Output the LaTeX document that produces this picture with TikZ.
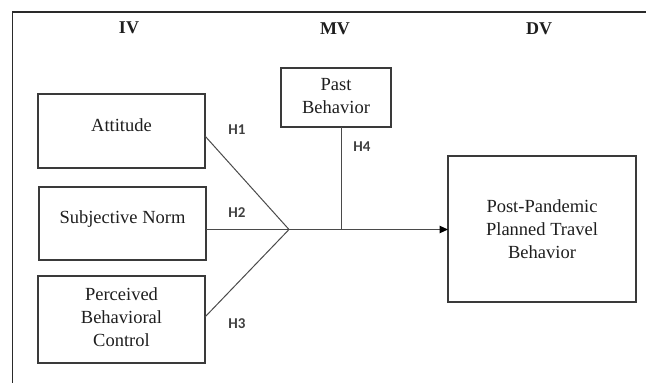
\documentclass[tikz,border=0pt]{standalone}
\usepackage{fontspec}
\setmainfont{Liberation Serif}
\newfontfamily\hypfont{Carlito}
\usetikzlibrary{arrows.meta,calc}

\definecolor{framec}{HTML}{2A2A2A}
\definecolor{boxc}{HTML}{3A3A3A}
\definecolor{linec}{HTML}{4A4A4A}
\definecolor{txtc}{HTML}{1E1E1E}

\tikzset{
  box/.style={draw=boxc, line width=1.1pt, inner sep=0pt, outer sep=0pt},
  txt/.style={text=txtc, inner sep=0pt, align=center,
    font=\fontsize{18.5}{23}\selectfont},
  head/.style={text=txtc, inner sep=0pt,
    font=\fontsize{18}{22}\selectfont\bfseries},
  hyp/.style={text=txtc!85!white, inner sep=0pt,
    font=\hypfont\bfseries\fontsize{15}{18}\selectfont},
  link/.style={draw=linec, line width=1pt},
}

\begin{document}
\begin{tikzpicture}[x=1pt, y=-1pt]
  \useasboundingbox (0,0) rectangle (646,383);

  % open frame: top and left sides
  \draw[draw=framec, line width=1.3pt] (12.7,383) -- (12.7,12) -- (646,12);

  % column headings
  \node[head] (iv) at (129,28) {IV};
  \node[head] (mv) at (335,29) {MV};
  \node[head] (dvh) at (539,29) {DV};

  % construct boxes
  \node[box, minimum width=167pt, minimum height=74pt] (att) at (121.5,131) {};
  \node[box, minimum width=167pt, minimum height=73pt] (sn)  at (122.5,223.5) {};
  \node[box, minimum width=167pt, minimum height=87pt] (pbc) at (121.5,319.5) {};
  \node[box, minimum width=110pt, minimum height=59pt] (past) at (336,97.5) {};
  \node[box, minimum width=188pt, minimum height=146pt] (dv) at (542,229) {};

  % box captions
  \node[txt, anchor=base] (attT) at (121.5,131) {Attitude};
  \node[txt, anchor=base] (snT)  at (122.5,223) {Subjective Norm};
  \node[txt] (pbcT)  at (121.5,317) {Perceived\\Behavioral\\Control};
  \node[txt] (pastT) at (336,96.5) {Past\\Behavior};
  \node[txt] (dvT)   at (542,229) {Post-Pandemic\\Planned Travel\\Behavior};

  % converging paths
  \coordinate (J) at (289,229.5);
  \coordinate (p4) at ($(past.south)+(5.5,0)$);
  \draw[link] ($(att.east)+(0,5)$) -- (J);
  \draw[link] (sn.east |- J) -- (J);
  \draw[link] ($(pbc.east)+(0,-2.5)$) -- (J);
  \draw[link] (p4) -- (p4 |- J);
  \draw[link, -{Triangle[length=8.5pt, width=7.5pt, color=black]}] (J) -- (dv.west |- J);

  % hypothesis labels
  \node[hyp] (h1) at (237,130) {H1};
  \node[hyp] (h2) at (237,213) {H2};
  \node[hyp] (h3) at (237,324) {H3};
  \node[hyp] (h4) at (362,147) {H4};
\end{tikzpicture}
\end{document}
